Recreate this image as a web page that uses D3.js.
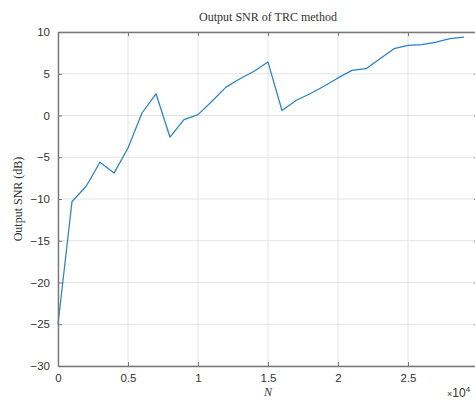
<!DOCTYPE html>
<html>
<head>
<meta charset="utf-8">
<script src="https://cdn.jsdelivr.net/npm/d3@7"></script>
<style>
  html, body { margin: 0; padding: 0; background: #fff; overflow: hidden; }
  svg { display: block; }
</style>
</head>
<body>
<svg id="chart" width="475" height="401"></svg>
<script>
// Sample counts (in units of 10^4) and measured output SNR in dB
const nValues = [0, 0.1, 0.2, 0.3, 0.4, 0.5, 0.6, 0.7, 0.8, 0.9,
                 1.0, 1.1, 1.2, 1.3, 1.4, 1.5, 1.6, 1.7, 1.8, 1.9,
                 2.0, 2.1, 2.2, 2.3, 2.4, 2.5, 2.6, 2.7, 2.8, 2.9];
const snrValues = [-25, -10.3, -8.5, -5.6, -6.9, -3.9, 0.3, 2.6, -2.6, -0.5,
                   0.1, 1.7, 3.4, 4.4, 5.3, 6.4, 0.6, 1.8, 2.6, 3.5,
                   4.5, 5.4, 5.6, 6.8, 8.0, 8.4, 8.5, 8.8, 9.2, 9.4];
// The tick at 3 sits on the clipped right edge, so it carries no label
const xTicks = [0, 0.5, 1, 1.5, 2, 2.5, 3];
const xTickLabels = ["0", "0.5", "1", "1.5", "2", "2.5", ""];
const yTicks = [-30, -25, -20, -15, -10, -5, 0, 5, 10];

const svg = d3.select("#chart");
const margin = { left: 58, top: 32, right: 478, bottom: 366 };

const x = d3.scaleLinear().domain([0, 3]).range([margin.left, margin.right]);
const y = d3.scaleLinear().domain([-30, 10]).range([margin.bottom, margin.top]);

const axisColor = "#777777";
const gridColor = "#e4e4e4";
const textColor = "#333333";
const sans = "'Liberation Sans', Arial, Helvetica, sans-serif";
const serif = "'Liberation Serif', 'Times New Roman', serif";

// Grid lines
const grid = svg.append("g");
grid.selectAll("line.gx").data(xTicks).join("line")
  .attr("x1", d => x(d)).attr("x2", d => x(d))
  .attr("y1", margin.top).attr("y2", margin.bottom)
  .attr("stroke", gridColor).attr("stroke-width", 1);
grid.selectAll("line.gy").data(yTicks).join("line")
  .attr("x1", margin.left).attr("x2", margin.right)
  .attr("y1", d => y(d)).attr("y2", d => y(d))
  .attr("stroke", gridColor).attr("stroke-width", 1);

// Data line
svg.append("path")
  .datum(nValues.map((n, i) => [n, snrValues[i]]))
  .attr("fill", "none")
  .attr("stroke", "#2683c9")
  .attr("stroke-width", 1.25)
  .attr("stroke-linejoin", "round")
  .attr("d", d3.line().x(d => x(d[0])).y(d => y(d[1])));

// Axes with inward ticks (box style)
const tickLen = 4;
const bottomAxis = d3.axisBottom(x).tickValues(xTicks)
  .tickFormat((d, i) => xTickLabels[i]).tickSizeInner(-tickLen).tickSizeOuter(0).tickPadding(8);
const topAxis = d3.axisTop(x).tickValues(xTicks).tickFormat("").tickSizeInner(-tickLen).tickSizeOuter(0);
const leftAxis = d3.axisLeft(y).tickValues(yTicks).tickSizeInner(-tickLen).tickSizeOuter(0).tickPadding(8);
const rightAxis = d3.axisRight(y).tickValues(yTicks).tickFormat("").tickSizeInner(-tickLen).tickSizeOuter(0);

function styleAxis(g) {
  g.select(".domain").attr("stroke", axisColor).attr("stroke-width", 1.4);
  g.selectAll(".tick line").attr("stroke", axisColor);
  g.selectAll(".tick text").attr("fill", textColor)
    .style("font-family", sans).style("font-size", "11.5px");
}

svg.append("g").attr("transform", `translate(0,${margin.bottom})`).call(bottomAxis).call(styleAxis);
svg.append("g").attr("transform", `translate(0,${margin.top})`).call(topAxis).call(styleAxis);
svg.append("g").attr("transform", `translate(${margin.left},0)`).call(leftAxis).call(styleAxis);
svg.append("g").attr("transform", `translate(${margin.right},0)`).call(rightAxis).call(styleAxis);

// Title and axis labels
svg.append("text")
  .attr("x", (margin.left + margin.right) / 2).attr("y", 21)
  .attr("text-anchor", "middle")
  .style("font-family", serif).style("font-size", "12px").attr("fill", textColor)
  .text("Output SNR of TRC method");

svg.append("text")
  .attr("transform", `translate(22,${(margin.top + margin.bottom) / 2}) rotate(-90)`)
  .attr("text-anchor", "middle")
  .style("font-family", serif).style("font-size", "12px").attr("fill", textColor)
  .text("Output SNR (dB)");

svg.append("text")
  .attr("x", x(1.5)).attr("y", 396)
  .attr("text-anchor", "middle")
  .style("font-family", serif).style("font-style", "italic").style("font-size", "12px").attr("fill", textColor)
  .text("N");

// Exponent label for the x axis
const expo = svg.append("text")
  .attr("x", 447).attr("y", 397)
  .style("font-family", sans).style("font-size", "12px").attr("fill", textColor);
expo.append("tspan").style("font-size", "9px").text("\u00d7");
expo.append("tspan").text("10");
expo.append("tspan").attr("dy", -5).style("font-size", "8px").text("4");
</script>
</body>
</html>
